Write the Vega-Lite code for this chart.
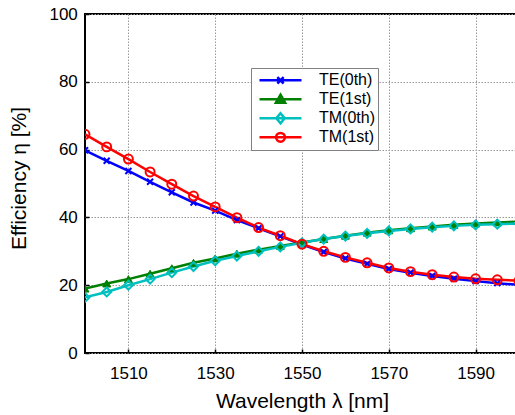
{
  "$schema": "https://vega.github.io/schema/vega-lite/v6.json",
  "autosize": {"type": "none"},
  "padding": {"left": 85, "top": 14, "right": 0, "bottom": 62},
  "width": 434,
  "height": 339,
  "config": {
    "font": "Liberation Sans",
    "view": {"stroke": "black", "strokeWidth": 2},
    "axis": {
      "labelFont": "Liberation Sans",
      "titleFont": "Liberation Sans",
      "labelFontSize": 17,
      "titleFontSize": 21,
      "titleFontWeight": "normal",
      "labelColor": "black",
      "titleColor": "black",
      "domain": false,
      "tickColor": "black",
      "tickWidth": 1.5,
      "tickSize": -4,
      "grid": true,
      "gridColor": "#9a9a9a",
      "gridDash": [1.5, 1.5],
      "gridWidth": 1,
      "gridOpacity": 1
    }
  },
  "data": {
    "values": [
      {"wl": 1500, "series": "TE(0th)", "eff": 59.8},
      {"wl": 1505, "series": "TE(0th)", "eff": 56.7},
      {"wl": 1510, "series": "TE(0th)", "eff": 53.7},
      {"wl": 1515, "series": "TE(0th)", "eff": 50.5},
      {"wl": 1520, "series": "TE(0th)", "eff": 47.4},
      {"wl": 1525, "series": "TE(0th)", "eff": 44.4},
      {"wl": 1530, "series": "TE(0th)", "eff": 42.0},
      {"wl": 1535, "series": "TE(0th)", "eff": 39.2},
      {"wl": 1540, "series": "TE(0th)", "eff": 36.8},
      {"wl": 1545, "series": "TE(0th)", "eff": 34.4},
      {"wl": 1550, "series": "TE(0th)", "eff": 32.0},
      {"wl": 1555, "series": "TE(0th)", "eff": 29.8},
      {"wl": 1560, "series": "TE(0th)", "eff": 27.9},
      {"wl": 1565, "series": "TE(0th)", "eff": 26.3},
      {"wl": 1570, "series": "TE(0th)", "eff": 24.8},
      {"wl": 1575, "series": "TE(0th)", "eff": 23.7},
      {"wl": 1580, "series": "TE(0th)", "eff": 22.7},
      {"wl": 1585, "series": "TE(0th)", "eff": 21.9},
      {"wl": 1590, "series": "TE(0th)", "eff": 21.2},
      {"wl": 1595, "series": "TE(0th)", "eff": 20.6},
      {"wl": 1600, "series": "TE(0th)", "eff": 20.1},
      {"wl": 1500, "series": "TE(1st)", "eff": 19.0},
      {"wl": 1505, "series": "TE(1st)", "eff": 20.5},
      {"wl": 1510, "series": "TE(1st)", "eff": 21.8},
      {"wl": 1515, "series": "TE(1st)", "eff": 23.4},
      {"wl": 1520, "series": "TE(1st)", "eff": 25.0},
      {"wl": 1525, "series": "TE(1st)", "eff": 26.6},
      {"wl": 1530, "series": "TE(1st)", "eff": 27.9},
      {"wl": 1535, "series": "TE(1st)", "eff": 29.3},
      {"wl": 1540, "series": "TE(1st)", "eff": 30.5},
      {"wl": 1545, "series": "TE(1st)", "eff": 31.6},
      {"wl": 1550, "series": "TE(1st)", "eff": 32.6},
      {"wl": 1555, "series": "TE(1st)", "eff": 33.6},
      {"wl": 1560, "series": "TE(1st)", "eff": 34.6},
      {"wl": 1565, "series": "TE(1st)", "eff": 35.5},
      {"wl": 1570, "series": "TE(1st)", "eff": 36.2},
      {"wl": 1575, "series": "TE(1st)", "eff": 36.8},
      {"wl": 1580, "series": "TE(1st)", "eff": 37.3},
      {"wl": 1585, "series": "TE(1st)", "eff": 37.8},
      {"wl": 1590, "series": "TE(1st)", "eff": 38.2},
      {"wl": 1595, "series": "TE(1st)", "eff": 38.5},
      {"wl": 1600, "series": "TE(1st)", "eff": 38.8},
      {"wl": 1500, "series": "TM(0th)", "eff": 16.4},
      {"wl": 1505, "series": "TM(0th)", "eff": 18.0},
      {"wl": 1510, "series": "TM(0th)", "eff": 20.0},
      {"wl": 1515, "series": "TM(0th)", "eff": 21.8},
      {"wl": 1520, "series": "TM(0th)", "eff": 23.7},
      {"wl": 1525, "series": "TM(0th)", "eff": 25.5},
      {"wl": 1530, "series": "TM(0th)", "eff": 27.2},
      {"wl": 1535, "series": "TM(0th)", "eff": 28.6},
      {"wl": 1540, "series": "TM(0th)", "eff": 30.0},
      {"wl": 1545, "series": "TM(0th)", "eff": 31.3},
      {"wl": 1550, "series": "TM(0th)", "eff": 32.5},
      {"wl": 1555, "series": "TM(0th)", "eff": 33.6},
      {"wl": 1560, "series": "TM(0th)", "eff": 34.5},
      {"wl": 1565, "series": "TM(0th)", "eff": 35.3},
      {"wl": 1570, "series": "TM(0th)", "eff": 36.0},
      {"wl": 1575, "series": "TM(0th)", "eff": 36.6},
      {"wl": 1580, "series": "TM(0th)", "eff": 37.1},
      {"wl": 1585, "series": "TM(0th)", "eff": 37.5},
      {"wl": 1590, "series": "TM(0th)", "eff": 37.8},
      {"wl": 1595, "series": "TM(0th)", "eff": 38.0},
      {"wl": 1600, "series": "TM(0th)", "eff": 38.2},
      {"wl": 1500, "series": "TM(1st)", "eff": 64.5},
      {"wl": 1505, "series": "TM(1st)", "eff": 60.8},
      {"wl": 1510, "series": "TM(1st)", "eff": 57.2},
      {"wl": 1515, "series": "TM(1st)", "eff": 53.4},
      {"wl": 1520, "series": "TM(1st)", "eff": 49.8},
      {"wl": 1525, "series": "TM(1st)", "eff": 46.3},
      {"wl": 1530, "series": "TM(1st)", "eff": 43.1},
      {"wl": 1535, "series": "TM(1st)", "eff": 39.9},
      {"wl": 1540, "series": "TM(1st)", "eff": 37.0},
      {"wl": 1545, "series": "TM(1st)", "eff": 34.6},
      {"wl": 1550, "series": "TM(1st)", "eff": 32.1},
      {"wl": 1555, "series": "TM(1st)", "eff": 30.0},
      {"wl": 1560, "series": "TM(1st)", "eff": 28.2},
      {"wl": 1565, "series": "TM(1st)", "eff": 26.6},
      {"wl": 1570, "series": "TM(1st)", "eff": 25.1},
      {"wl": 1575, "series": "TM(1st)", "eff": 24.0},
      {"wl": 1580, "series": "TM(1st)", "eff": 23.1},
      {"wl": 1585, "series": "TM(1st)", "eff": 22.4},
      {"wl": 1590, "series": "TM(1st)", "eff": 21.9},
      {"wl": 1595, "series": "TM(1st)", "eff": 21.6},
      {"wl": 1600, "series": "TM(1st)", "eff": 21.3}
    ]
  },
  "encoding": {
    "x": {
      "field": "wl", "type": "quantitative",
      "scale": {"domain": [1500, 1600], "nice": false, "zero": false},
      "axis": {
        "values": [1510, 1530, 1550, 1570, 1590],
        "format": "d",
        "grid": true,
        "title": "Wavelength λ [nm]",
        "labelPadding": 29.5,
        "labelBaseline": "alphabetic",
        "titleBaseline": "alphabetic",
        "titleY": 54
      }
    },
    "y": {
      "field": "eff", "type": "quantitative",
      "scale": {"domain": [0, 100], "nice": false},
      "axis": {
        "values": [0, 20, 40, 60, 80, 100],
        "format": "d",
        "grid": true,
        "title": "Efficiency η [%]",
        "labelPadding": 11.7,
        "titleBaseline": "alphabetic",
        "titleX": -60,
        "titleY": 164
      }
    }
  },
  "layer": [
    {
      "mark": {"type": "line", "strokeWidth": 2.5, "clip": true},
      "encoding": {
        "color": {
          "field": "series", "type": "nominal",
          "scale": {
            "domain": ["TE(0th)", "TE(1st)", "TM(0th)", "TM(1st)"],
            "range": ["#0000ff", "#008000", "#00bfbf", "#ff0000"]
          },
          "legend": {
            "title": null,
            "orient": "none",
            "legendX": 166,
            "legendY": 54,
            "direction": "vertical",
            "fillColor": "white",
            "strokeColor": "#808080",
            "padding": 3,
            "rowPadding": 0,
            "clipHeight": 18.7,
            "symbolType": "stroke",
            "symbolSize": 1764,
            "symbolOffset": 4,
            "symbolStrokeWidth": 2.5,
            "labelOffset": 16,
            "labelFontSize": 16,
            "labelFont": "Liberation Sans",
            "labelColor": "black",
            "encode": {
              "symbols": {
                "update": {
                  "shape": {"signal": "datum.value === 'TE(0th)' ? 'M-1,0H1M-0.15,-0.15L0.15,0.15M-0.15,0.15L0.15,-0.15' : datum.value === 'TE(1st)' ? 'M-1,0H1M0,-0.22L0.22,0.16L-0.22,0.16Z' : datum.value === 'TM(0th)' ? 'M-1,0H1M0,-0.24L0.2,0L0,0.24L-0.2,0Z' : 'M-1,0H1M0.21,0A0.21,0.21,0,1,1,-0.21,0A0.21,0.21,0,1,1,0.21,0Z'"},
                  "fill": {"signal": "datum.value === 'TE(1st)' ? '#008000' : 'transparent'"},
                  "stroke": {"signal": "datum.value === 'TE(0th)' ? '#0000ff' : datum.value === 'TE(1st)' ? '#008000' : datum.value === 'TM(0th)' ? '#00bfbf' : '#ff0000'"},
                  "strokeWidth": {"value": 2.5},
                  "opacity": {"value": 1}
                }
              }
            }
          }
        }
      }
    },
    {
      "transform": [{"filter": {"field": "series", "equal": "TE(0th)"}}],
      "mark": {"type": "point", "shape": "M-1,-1L1,1M-1,1L1,-1", "filled": false, "stroke": "#0000ff", "strokeWidth": 2, "size": 36, "opacity": 1, "clip": true}
    },
    {
      "transform": [{"filter": {"field": "series", "equal": "TE(1st)"}}],
      "mark": {"type": "point", "shape": "triangle-up", "filled": true, "fill": "#008000", "stroke": "#008000", "strokeWidth": 1, "size": 64, "opacity": 1, "clip": true}
    },
    {
      "transform": [{"filter": {"field": "series", "equal": "TM(0th)"}}],
      "mark": {"type": "point", "shape": "diamond", "filled": false, "stroke": "#00bfbf", "strokeWidth": 2, "size": 80, "opacity": 1, "clip": true}
    },
    {
      "transform": [{"filter": {"field": "series", "equal": "TM(1st)"}}],
      "mark": {"type": "point", "shape": "circle", "filled": false, "stroke": "#ff0000", "strokeWidth": 2, "size": 80, "opacity": 1, "clip": true}
    }
  ]
}
